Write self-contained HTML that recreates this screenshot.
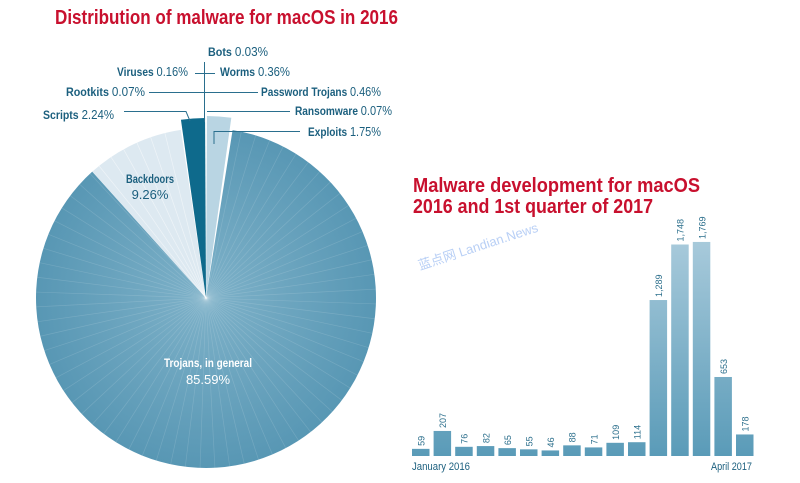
<!DOCTYPE html>
<html><head><meta charset="utf-8"><style>
html,body{margin:0;padding:0;background:#fff;}
svg{display:block;font-family:"Liberation Sans",sans-serif;}
.t{fill:#c8102e;font-weight:bold;font-size:20px;}
.n{fill:#1b5f7e;font-weight:bold;font-size:11.5px;}
.p{fill:#1b5f7e;font-size:12.5px;}
.b{fill:#2c6f8c;font-size:9px;}
</style></head><body>
<svg width="800" height="483" viewBox="0 0 800 483" xmlns="http://www.w3.org/2000/svg">
<defs>
<linearGradient id="bg" gradientUnits="userSpaceOnUse" x1="0" y1="240" x2="0" y2="456">
<stop offset="0" stop-color="#a8cadb"/><stop offset="1" stop-color="#5a9bb8"/></linearGradient>
<radialGradient id="tg" cx="206" cy="298" r="170" gradientUnits="userSpaceOnUse">
<stop offset="0" stop-color="#7fb2c9"/><stop offset="1" stop-color="#5897b4"/></radialGradient>
</defs>
<text class="t" x="55" y="24" textLength="343" lengthAdjust="spacingAndGlyphs">Distribution of malware for macOS in 2016</text>
<text class="t" x="413" y="192" textLength="287" lengthAdjust="spacingAndGlyphs">Malware development for macOS</text>
<text class="t" x="413" y="213" textLength="240" lengthAdjust="spacingAndGlyphs">2016 and 1st quarter of 2017</text>

<g id="pie"></g>
<g stroke="#2a6f8e" stroke-width="1" fill="none">
<line x1="204.5" y1="62" x2="204.5" y2="122"/>
<line x1="195" y1="73.5" x2="215" y2="73.5"/>
<line x1="149" y1="92.5" x2="258" y2="92.5"/>
<polyline points="124,111.5 186,111.5 190,121"/>
<line x1="207" y1="111.5" x2="290" y2="111.5"/>
<polyline points="300,131.5 214,131.5 214,144"/>
</g>
<g>
<text x="208" y="56" textLength="60" lengthAdjust="spacingAndGlyphs"><tspan class="n">Bots </tspan><tspan class="p">0.03%</tspan></text>
<text x="117" y="76" textLength="71" lengthAdjust="spacingAndGlyphs"><tspan class="n">Viruses </tspan><tspan class="p">0.16%</tspan></text>
<text x="220" y="76" textLength="70" lengthAdjust="spacingAndGlyphs"><tspan class="n">Worms </tspan><tspan class="p">0.36%</tspan></text>
<text x="66" y="96" textLength="79" lengthAdjust="spacingAndGlyphs"><tspan class="n">Rootkits </tspan><tspan class="p">0.07%</tspan></text>
<text x="261" y="96" textLength="120" lengthAdjust="spacingAndGlyphs"><tspan class="n">Password Trojans </tspan><tspan class="p">0.46%</tspan></text>
<text x="43" y="119" textLength="71" lengthAdjust="spacingAndGlyphs"><tspan class="n">Scripts </tspan><tspan class="p">2.24%</tspan></text>
<text x="295" y="115" textLength="97" lengthAdjust="spacingAndGlyphs"><tspan class="n">Ransomware </tspan><tspan class="p">0.07%</tspan></text>
<text x="308" y="136" textLength="73" lengthAdjust="spacingAndGlyphs"><tspan class="n">Exploits </tspan><tspan class="p">1.75%</tspan></text>
<text class="n" x="150" y="183" text-anchor="middle" textLength="48" lengthAdjust="spacingAndGlyphs">Backdoors</text>
<text class="p" x="150" y="199" text-anchor="middle" style="font-size:13px">9.26%</text>
<text class="n" x="208" y="367" text-anchor="middle" style="fill:#fff" textLength="88" lengthAdjust="spacingAndGlyphs">Trojans, in general</text>
<text class="p" x="208" y="384" text-anchor="middle" style="fill:#fff;font-size:13px">85.59%</text>
</g>
<text x="420" y="270" transform="rotate(-18 420 270)" style="fill:#8ab0f0;font-size:13px;opacity:.6;font-family:'Liberation Sans','Noto Sans CJK SC',sans-serif">蓝点网 Landian.News</text>
<g id="bars"></g>
<text class="p" x="412" y="470" style="font-size:11px" textLength="58" lengthAdjust="spacingAndGlyphs">January 2016</text>
<text class="p" x="711" y="470" style="font-size:11px" textLength="41" lengthAdjust="spacingAndGlyphs">April 2017</text>
</svg>
<script>
var NS="http://www.w3.org/2000/svg";
function el(p,t,a){var e=document.createElementNS(NS,t);for(var k in a)e.setAttribute(k,a[k]);p.appendChild(e);return e;}
var cx=206,cy=298;
function pt(a,r){var t=(a-90)*Math.PI/180;return [cx+r*Math.cos(t),cy+r*Math.sin(t)];}
function wedge(g,a0,a1,r,fill){var p0=pt(a0,r),p1=pt(a1,r);var l=(a1-a0)>180?1:0;
el(g,"path",{d:"M"+cx+","+cy+"L"+p0[0]+","+p0[1]+"A"+r+","+r+" 0 "+l+" 1 "+p1[0]+","+p1[1]+"Z",fill:fill});}
var g=document.getElementById("pie");
wedge(g,0.3,8,182,"#b9d5e3");
wedge(g,9,318,170,"url(#tg)");
wedge(g,318,351.5,170,"#dde9f1");
wedge(g,352,359.7,180,"#0e6a8c");
for(var a=12;a<318;a+=5){var p=pt(a,170);el(g,"line",{x1:cx,y1:cy,x2:p[0],y2:p[1],stroke:"#fff","stroke-opacity":"0.14","stroke-width":"0.7"});}
for(var a=321;a<351;a+=5){var p=pt(a,170);el(g,"line",{x1:cx,y1:cy,x2:p[0],y2:p[1],stroke:"#fff","stroke-opacity":"0.5","stroke-width":"0.7"});}
var v=[59,207,76,82,65,55,46,88,71,109,114,1289,1748,1769,653,178];
var lab=["59","207","76","82","65","55","46","88","71","109","114","1,289","1,748","1,769","653","178"];
var b=document.getElementById("bars");
for(var i=0;i<v.length;i++){var x=412+i*21.6,h=Math.max(v[i]*0.121,5);var y=456-h;
el(b,"rect",{x:x,y:y,width:17.5,height:h,fill:"url(#bg)"});
var t=el(b,"text",{x:x+12.5,y:y-3,"class":"b",transform:"rotate(-90 "+(x+12.5)+" "+(y-3)+")"});t.textContent=lab[i];}
</script>
</body></html>
